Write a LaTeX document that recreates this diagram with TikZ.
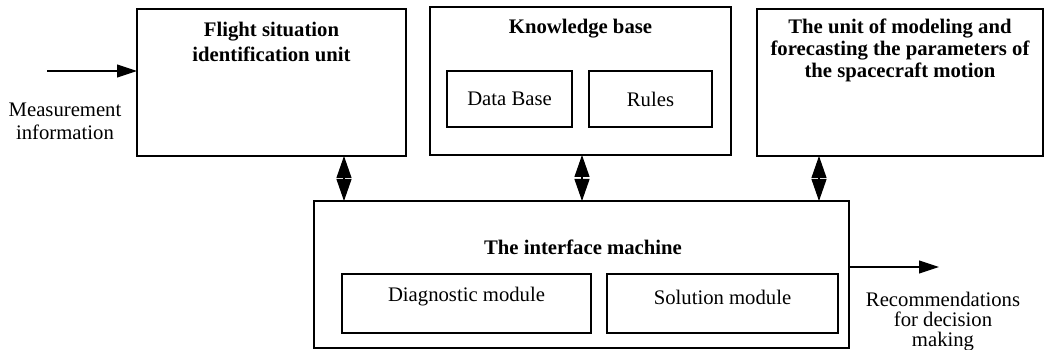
\documentclass[tikz,border=0pt]{standalone}
\usepackage{fontspec}
\setmainfont{Liberation Serif}
\usetikzlibrary{arrows.meta}
\begin{document}
\begin{tikzpicture}[x=1pt,y=-1pt,line width=1.1pt,
  box/.style={draw,rectangle,inner sep=0pt,outer sep=0pt,anchor=north west},
  txt/.style={font=\fontsize{20.7}{23}\selectfont,align=center,inner sep=0pt},
  ttl/.style={font=\fontsize{20.7}{25}\selectfont\bfseries,align=center,inner sep=0pt},
  tip/.style={-{Triangle[length=20pt,width=13pt]}},
  dbl/.style={{Triangle[length=22pt,width=15pt]}-{Triangle[length=22pt,width=15pt]}}]
\useasboundingbox (0,0) rectangle (1045,350);

% upper row of units
\node[box,minimum width=269pt,minimum height=147pt] (fsi) at (137,9) {};
\node[ttl] (fsit) at (271.5,42) {Flight situation\\identification unit};

\node[box,minimum width=301pt,minimum height=148pt] (kb) at (430,7) {};
\node[ttl] (kbt) at (580.5,29) {Knowledge base};
\node[box,minimum width=125pt,minimum height=56pt] (db) at (447,71) {};
\node[txt] (dbt) at (509.5,99) {Data Base};
\node[box,minimum width=123pt,minimum height=56pt] (ru) at (589,71) {};
\node[txt] (rut) at (650.5,99) {Rules};

\node[box,minimum width=286pt,minimum height=147pt] (mf) at (757,9) {};
\node[ttl,font=\fontsize{20.7}{22}\selectfont\bfseries] (mft) at (900,50) {The unit of modeling and\\forecasting the parameters of\\the spacecraft motion};

% interface machine
\node[box,minimum width=535pt,minimum height=147pt] (im) at (314,201) {};
\node[ttl] (imt) at (583,247) {The interface machine};
\node[box,minimum width=249pt,minimum height=59pt] (dm) at (342,274) {};
\node[txt] (dmt) at (466.5,297) {Diagnostic module};
\node[box,minimum width=231pt,minimum height=59pt] (sm) at (607,274) {};
\node[txt] (smt) at (722.5,297) {Solution module};

% input and output
\coordinate (in) at (47,71);
\draw[tip] (in) -- (in -| fsi.west);
\node[txt] (mi) at (65,121) {Measurement\\information};

\coordinate (out) at (939,267);
\draw[tip] (out -| im.east) -- (out);
\node[txt,font=\fontsize{20.7}{20}\selectfont] (rec) at (943,322) {Recommendations\\for decision\\making};

% exchange between units and the interface machine
\coordinate (a1) at (344,0);
\coordinate (a2) at (582,0);
\coordinate (a3) at (819,0);
\draw[dbl] (fsi.south -| a1) -- (im.north -| a1);
\draw[dbl] (kb.south -| a2) -- (im.north -| a2);
\draw[dbl] (mf.south -| a3) -- (im.north -| a3);
\end{tikzpicture}
\end{document}
